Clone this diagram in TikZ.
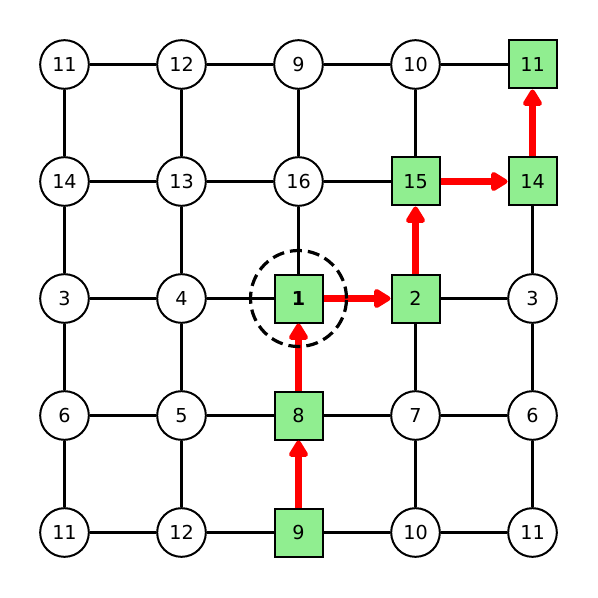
\documentclass[tikz,border=0pt]{standalone}
\usepackage{fontspec}
\setmainfont{DejaVu Sans}
\usetikzlibrary{arrows.meta}
\definecolor{lgreen}{HTML}{90EE90}
\tikzset{
  cnode/.style={circle,draw=black,line width=1.5pt,fill=white,minimum size=36.5pt,inner sep=0pt,font=\fontsize{14.4}{16}\selectfont},
  snode/.style={rectangle,draw=black,line width=1.5pt,fill=lgreen,minimum size=36pt,inner sep=0pt,font=\fontsize{14.4}{16}\selectfont},
  grid/.style={line width=2pt,black},
  path/.style={line width=5.5pt,red,-{Triangle[length=14pt,width=16pt,round]}},
}
\begin{document}
\begin{tikzpicture}[x=0.75pt,y=-0.75pt]
\useasboundingbox (0,0) rectangle (598,598);
\def\xa{64.5}\def\xb{181.5}\def\xc{298.5}\def\xd{415.5}\def\xe{532.5}
% row 0
\node[cnode] (a00) at (\xa,\xa) {11};
\node[cnode] (a01) at (\xb,\xa) {12};
\node[cnode] (a02) at (\xc,\xa) {9};
\node[cnode] (a03) at (\xd,\xa) {10};
\node[snode] (a04) at (\xe,\xa) {11};
% row 1
\node[cnode] (a10) at (\xa,\xb) {14};
\node[cnode] (a11) at (\xb,\xb) {13};
\node[cnode] (a12) at (\xc,\xb) {16};
\node[snode] (a13) at (\xd,\xb) {15};
\node[snode] (a14) at (\xe,\xb) {14};
% row 2
\node[cnode] (a20) at (\xa,\xc) {3};
\node[cnode] (a21) at (\xb,\xc) {4};
\node[snode] (a22) at (\xc,\xc) {\bfseries 1};
\node[snode] (a23) at (\xd,\xc) {2};
\node[cnode] (a24) at (\xe,\xc) {3};
% row 3
\node[cnode] (a30) at (\xa,\xd) {6};
\node[cnode] (a31) at (\xb,\xd) {5};
\node[snode] (a32) at (\xc,\xd) {8};
\node[cnode] (a33) at (\xd,\xd) {7};
\node[cnode] (a34) at (\xe,\xd) {6};
% row 4
\node[cnode] (a40) at (\xa,\xe) {11};
\node[cnode] (a41) at (\xb,\xe) {12};
\node[snode] (a42) at (\xc,\xe) {9};
\node[cnode] (a43) at (\xd,\xe) {10};
\node[cnode] (a44) at (\xe,\xe) {11};
% grid edges
\foreach \r in {0,...,4}{
  \draw[grid] (a\r0) -- (a\r1);
  \draw[grid] (a\r1) -- (a\r2);
}
\draw[grid] (a02) -- (a03); \draw[grid] (a03) -- (a04);
\draw[grid] (a12) -- (a13);
\draw[grid] (a23) -- (a24);
\draw[grid] (a32) -- (a33); \draw[grid] (a33) -- (a34);
\draw[grid] (a42) -- (a43); \draw[grid] (a43) -- (a44);
\foreach \c in {0,1,3}{
  \draw[grid] (a0\c) -- (a1\c);
}
\foreach \c in {0,1}{
  \draw[grid] (a1\c) -- (a2\c);
  \draw[grid] (a2\c) -- (a3\c);
  \draw[grid] (a3\c) -- (a4\c);
}
\draw[grid] (a02) -- (a12); \draw[grid] (a12) -- (a22);
\draw[grid] (a23) -- (a33); \draw[grid] (a33) -- (a43);
\draw[grid] (a14) -- (a24); \draw[grid] (a24) -- (a34); \draw[grid] (a34) -- (a44);
% path arrows
\draw[path] (a42) -- (a32);
\draw[path] (a32) -- (a22);
\draw[path] (a22) -- (a23);
\draw[path] (a23) -- (a13);
\draw[path] (a13) -- (a14);
\draw[path] (a14) -- (a04);
% dashed circle
\node[circle,draw=black,line width=2.4pt,dash pattern=on 9pt off 4.5pt,minimum size=72pt,inner sep=0pt] (hl) at (\xc,\xc) {};
\end{tikzpicture}
\end{document}
